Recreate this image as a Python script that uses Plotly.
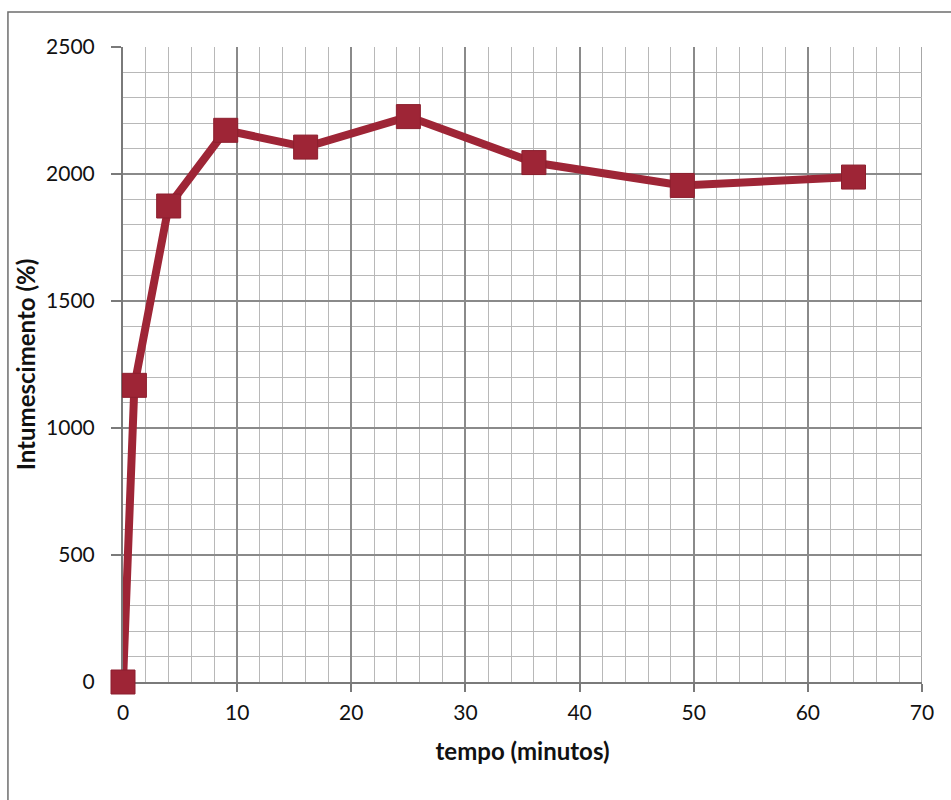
import plotly.graph_objects as go

# Swelling (intumescimento) over time
tempo = [0, 1, 4, 9, 16, 25, 36, 49, 64]
intumescimento = [0, 1168, 1874, 2172, 2106, 2226, 2045, 1955, 1988]

x_ticks = [0, 10, 20, 30, 40, 50, 60, 70]
y_ticks = [0, 500, 1000, 1500, 2000, 2500]

RED = "#9e2536"
FONT = "Lato, 'Open Sans', sans-serif"

fig = go.Figure()
fig.add_trace(go.Scatter(
    x=tempo, y=intumescimento,
    mode="lines+markers",
    line=dict(color=RED, width=8),
    marker=dict(symbol="square", size=24, color=RED,
                line=dict(color="#8c1f2e", width=1)),
    cliponaxis=False,
    showlegend=False,
))

fig.update_layout(
    width=951, height=800,
    margin=dict(l=123, r=29, t=47, b=118),
    paper_bgcolor="white",
    plot_bgcolor="white",
    font=dict(family=FONT, size=21, color="#111"),
    xaxis=dict(
        range=[0, 70], tickvals=x_ticks,
        showgrid=True, gridcolor="#8a8a8a", gridwidth=1.5,
        minor=dict(dtick=2, showgrid=True, gridcolor="#b8b8b8", gridwidth=1.2),
        showline=True, linecolor="#7a7a7a", linewidth=2,
        ticks="outside", ticklen=8, tickcolor="#7a7a7a", tickwidth=2,
        zeroline=False, layer="below traces",
        title=dict(text="<b>tempo (minutos)</b>", font=dict(size=24), standoff=20),
        ticklabelstandoff=3,
    ),
    yaxis=dict(
        range=[0, 2500], tickvals=y_ticks,
        showgrid=True, gridcolor="#8a8a8a", gridwidth=1.5,
        minor=dict(dtick=100, showgrid=True, gridcolor="#b8b8b8", gridwidth=1.2),
        showline=True, linecolor="#7a7a7a", linewidth=2,
        ticks="outside", ticklen=10, tickcolor="#7a7a7a", tickwidth=2,
        zeroline=False, layer="below traces",
        title=dict(text="<b>Intumescimento (%)</b>", font=dict(size=24), standoff=4),
        ticklabelstandoff=12,
    ),
    shapes=[
        # right-hand edge of the grid
        dict(type="line", xref="x", yref="paper", x0=70, x1=70, y0=0, y1=1,
             line=dict(color="#8a8a8a", width=1.5), layer="below"),
        # outer chart frame
        dict(type="rect", xref="paper", yref="paper",
             x0=-0.144, x1=1.045, y0=-0.21, y1=1.055,
             line=dict(color="#6e6e6e", width=1.5)),
    ],
)

fig.write_html("out.html")
